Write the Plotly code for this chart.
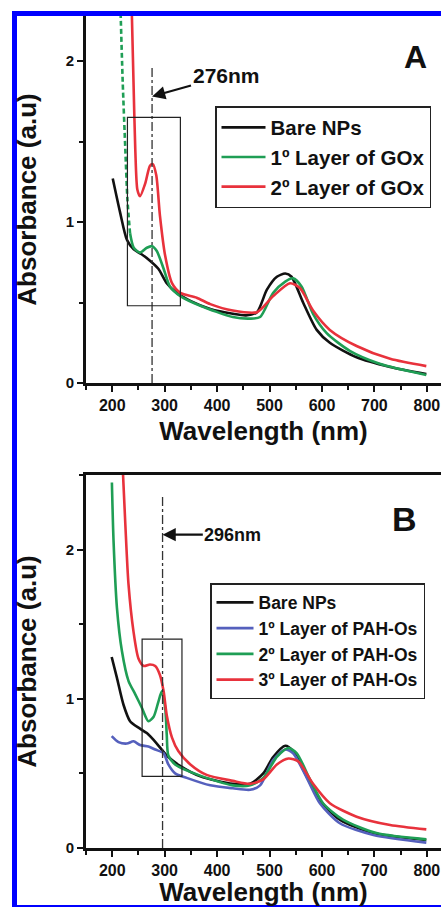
import plotly.graph_objects as go

# ---------------- data ----------------
# Panel A
wl_a_bare = [201, 215, 228, 241, 256, 272, 288, 304, 323, 349, 387, 430, 455, 476, 495, 514, 530, 542, 564, 590, 615, 666, 730, 799]
abs_a_bare = [1.27, 1.06, 0.89, 0.83, 0.80, 0.76, 0.71, 0.62, 0.56, 0.51, 0.46, 0.43, 0.42, 0.44, 0.58, 0.66, 0.68, 0.66, 0.50, 0.33, 0.25, 0.16, 0.10, 0.056]

wl_a_gox1_dash = [216, 220, 225, 229, 234]
abs_a_gox1_dash = [2.30, 1.87, 1.45, 1.14, 0.93]
wl_a_gox1 = [234, 241, 253, 266, 276, 285, 298, 310, 330, 368, 430, 463, 482, 507, 530, 545, 561, 583, 609, 653, 710, 799]
abs_a_gox1 = [0.93, 0.84, 0.81, 0.84, 0.85, 0.82, 0.71, 0.60, 0.54, 0.48, 0.41, 0.40, 0.41, 0.56, 0.63, 0.65, 0.60, 0.43, 0.31, 0.20, 0.12, 0.05]

wl_a_gox2 = [237, 240.6, 244, 248, 253, 263, 272, 277.5, 284, 291, 301, 314, 330, 361, 387, 430, 476, 507, 539, 558, 583, 615, 666, 730, 799]
abs_a_gox2 = [2.35, 1.87, 1.45, 1.20, 1.16, 1.24, 1.35, 1.36, 1.29, 1.04, 0.79, 0.62, 0.56, 0.53, 0.49, 0.45, 0.44, 0.54, 0.62, 0.59, 0.45, 0.33, 0.23, 0.15, 0.105]

# Panel B
wl_b_bare = [199, 209, 221.5, 234, 253, 266, 285, 304, 329.5, 368, 430, 463, 488, 507, 530, 545, 571, 596, 634, 698, 799]
abs_b_bare = [1.28, 1.14, 0.96, 0.85, 0.80, 0.77, 0.70, 0.62, 0.55, 0.48, 0.43, 0.43, 0.50, 0.61, 0.685, 0.65, 0.48, 0.32, 0.19, 0.10, 0.054]

wl_b_pah1 = [199, 212, 228, 240.6, 253, 269, 282, 298, 307, 320, 342, 387, 430, 463, 482, 507, 530, 545, 571, 596, 634, 698, 799]
abs_b_pah1 = [0.75, 0.71, 0.70, 0.715, 0.69, 0.68, 0.66, 0.635, 0.56, 0.50, 0.47, 0.42, 0.40, 0.39, 0.42, 0.59, 0.66, 0.635, 0.47, 0.30, 0.166, 0.087, 0.036]

wl_b_pah2 = [199.4, 202.5, 209, 218.5, 231, 244, 256.5, 269, 279, 288, 294.6, 301, 304, 307, 320, 342, 380, 430, 463, 488, 514, 536, 552, 577, 602, 640, 704, 799]
abs_b_pah2 = [2.45, 2.06, 1.61, 1.32, 1.12, 1.03, 0.94, 0.85, 0.88, 0.98, 1.05, 0.94, 0.76, 0.62, 0.56, 0.52, 0.47, 0.42, 0.42, 0.47, 0.61, 0.67, 0.635, 0.46, 0.30, 0.19, 0.10, 0.058]

wl_b_pah3 = [220, 225, 231, 240.6, 250, 260, 272, 282, 291, 298, 304, 314, 326, 349, 380, 430, 463, 488, 514, 536, 555, 583, 615, 666, 730, 799]
abs_b_pah3 = [2.55, 2.17, 1.77, 1.45, 1.27, 1.22, 1.23, 1.22, 1.16, 1.05, 0.89, 0.74, 0.65, 0.56, 0.49, 0.45, 0.43, 0.46, 0.56, 0.60, 0.58, 0.43, 0.30, 0.21, 0.154, 0.125]

# markers / guides
peak_a_nm = 276
peak_a_line_y = [0, 1.97]
peak_b_nm = 296
peak_b_line_y = [0, 2.36]
box_a = dict(x0=229, x1=330, y0=0.48, y1=1.65)
box_b = dict(x0=257, x1=333, y0=0.48, y1=1.40)

names_a = ["Bare NPs", "1º Layer of GOx", "2º Layer of GOx"]
names_b = ["Bare NPs", "1º Layer of PAH-Os", "2º Layer of PAH-Os", "3º Layer of PAH-Os"]

# ---------------- style ----------------
W, H = 441, 907
FONT = "Liberation Sans, Arial, Helvetica, sans-serif"
BLACK = "#111111"
GREEN = "#1f9e55"
RED = "#e8323c"
BLUE = "#5560bd"
LW = 2.6


def px_x(px):
    return px / W


def px_y(py):
    return 1 - py / H


fig = go.Figure()


def add_line(x, y, color, name, xa, ya, legend, show=True, dash="solid"):
    fig.add_trace(go.Scatter(
        x=x, y=y, mode="lines", name=name,
        line=dict(color=color, width=LW, shape="spline", smoothing=0.7, dash=dash),
        xaxis=xa, yaxis=ya, legend=legend, showlegend=show,
        hoverinfo="skip"))


# Panel A
add_line(wl_a_bare, abs_a_bare, BLACK, names_a[0], "x", "y", "legend")
add_line(wl_a_gox1_dash, abs_a_gox1_dash, GREEN, names_a[1], "x", "y", "legend", show=False, dash="5px,3px")
add_line(wl_a_gox1, abs_a_gox1, GREEN, names_a[1], "x", "y", "legend")
add_line(wl_a_gox2, abs_a_gox2, RED, names_a[2], "x", "y", "legend")
fig.add_trace(go.Scatter(x=[peak_a_nm, peak_a_nm], y=peak_a_line_y, mode="lines",
                         line=dict(color="#333333", width=1.3, dash="dashdot"),
                         xaxis="x", yaxis="y", showlegend=False, hoverinfo="skip"))

# Panel B
add_line(wl_b_bare, abs_b_bare, BLACK, names_b[0], "x2", "y2", "legend2")
add_line(wl_b_pah1, abs_b_pah1, BLUE, names_b[1], "x2", "y2", "legend2")
add_line(wl_b_pah2, abs_b_pah2, GREEN, names_b[2], "x2", "y2", "legend2")
add_line(wl_b_pah3, abs_b_pah3, RED, names_b[3], "x2", "y2", "legend2")
fig.add_trace(go.Scatter(x=[peak_b_nm, peak_b_nm], y=peak_b_line_y, mode="lines",
                         line=dict(color="#333333", width=1.3, dash="dashdot"),
                         xaxis="x2", yaxis="y2", showlegend=False, hoverinfo="skip"))

xdom = [px_x(86), 1.0]
xrange_nm = [150, 827]

tickfont = dict(family=FONT, size=16, color="#111", weight="bold")
titlefont = dict(family=FONT, size=26, color="#111", weight="bold")


def xaxis_cfg(anchor, mirror):
    return dict(
        domain=xdom, range=xrange_nm, anchor=anchor, automargin=False,
        showline=True, linecolor="#111", linewidth=2.6, mirror=mirror,
        ticks="outside", ticklen=6, tickwidth=2, tickcolor="#111",
        tick0=0, dtick=100, showgrid=False, zeroline=False,
        tickfont=tickfont,
        minor=dict(ticks="outside", ticklen=4, tickwidth=2, tickcolor="#111", dtick=50, tick0=0, showgrid=False),
        title=dict(text="Wavelength (nm)", font=titlefont, standoff=9))


def yaxis_cfg(anchor, dom, rng):
    return dict(
        domain=dom, range=rng, anchor=anchor, automargin=False,
        showline=True, linecolor="#111", linewidth=2.6,
        ticks="outside", ticklen=6, tickwidth=2, tickcolor="#111",
        tick0=0, dtick=1, showgrid=False, zeroline=False,
        tickfont=dict(family=FONT, size=15, color="#111", weight="bold"),
        minor=dict(ticks="outside", ticklen=4, tickwidth=2, tickcolor="#111", dtick=0.5, tick0=0, showgrid=False),
        title=dict(text="Absorbance (a.u)", font=titlefont, standoff=22))


fig.update_layout(
    width=W, height=H,
    margin=dict(l=0, r=0, t=0, b=0, pad=0),
    paper_bgcolor="white", plot_bgcolor="white",
    xaxis=xaxis_cfg("y", False),
    yaxis=yaxis_cfg("x", [px_y(383), px_y(16)], [0, 2.28]),
    xaxis2=xaxis_cfg("y2", True),
    yaxis2=yaxis_cfg("x2", [px_y(848), px_y(475)], [0, 2.5]),
    legend=dict(x=px_x(215), y=px_y(106), xref="paper", yref="paper", xanchor="left", yanchor="top",
                bgcolor="white", bordercolor="#222", borderwidth=1.5,
                font=dict(family=FONT, size=20.5, color="#111", weight="bold"),
                itemwidth=44, tracegroupgap=0, traceorder="normal"),
    legend2=dict(x=px_x(210), y=px_y(583), xref="paper", yref="paper", xanchor="left", yanchor="top",
                 bgcolor="white", bordercolor="#222", borderwidth=1.5,
                 font=dict(family=FONT, size=17.5, color="#111", weight="bold"),
                 itemwidth=37, tracegroupgap=0, traceorder="normal"),
    showlegend=True,
)

# highlight boxes
fig.add_shape(type="rect", xref="x", yref="y", line=dict(color="#222", width=1.2), **box_a)
fig.add_shape(type="rect", xref="x2", yref="y2", line=dict(color="#222", width=1.2), **box_b)

# arrows with labels
fig.add_annotation(x=peak_a_nm, y=1.78, xref="x", yref="y", ax=417, ay=1.91, axref="x", ayref="y",
                   text="276nm", showarrow=True, arrowhead=2, arrowsize=1.2, arrowwidth=2.2, arrowcolor="#111",
                   font=dict(family=FONT, size=21, color="#111", weight="bold"))
fig.add_annotation(x=peak_b_nm, y=2.10, xref="x2", yref="y2", ax=430, ay=2.10, axref="x2", ayref="y2",
                   text="296nm", showarrow=True, arrowhead=2, arrowsize=1.2, arrowwidth=2.2, arrowcolor="#111",
                   font=dict(family=FONT, size=18, color="#111", weight="bold"))

# panel letters
fig.add_annotation(x=px_x(415), y=px_y(57), xref="paper", yref="paper", text="A", showarrow=False,
                   xanchor="center", yanchor="middle",
                   font=dict(family=FONT, size=32, color="#111", weight="bold"))
fig.add_annotation(x=px_x(404), y=px_y(519), xref="paper", yref="paper", text="B", showarrow=False,
                   xanchor="center", yanchor="middle",
                   font=dict(family=FONT, size=34, color="#111", weight="bold"))

# blue frame of the figure
BORDER = "#0000ff"
fig.add_shape(type="rect", xref="paper", yref="paper", x0=px_x(12), x1=px_x(17), y0=0, y1=px_y(11),
              line=dict(width=0), fillcolor=BORDER, layer="above")
fig.add_shape(type="rect", xref="paper", yref="paper", x0=px_x(12), x1=1.0, y0=px_y(16), y1=px_y(11),
              line=dict(width=0), fillcolor=BORDER, layer="above")
fig.add_shape(type="rect", xref="paper", yref="paper", x0=px_x(12), x1=1.0, y0=0, y1=px_y(905),
              line=dict(width=0), fillcolor=BORDER, layer="above")

fig.write_html(
    "out.html",
    config={"displayModeBar": False},
    post_script="document.body.style.margin='0px';document.body.style.overflow='hidden';",
)
